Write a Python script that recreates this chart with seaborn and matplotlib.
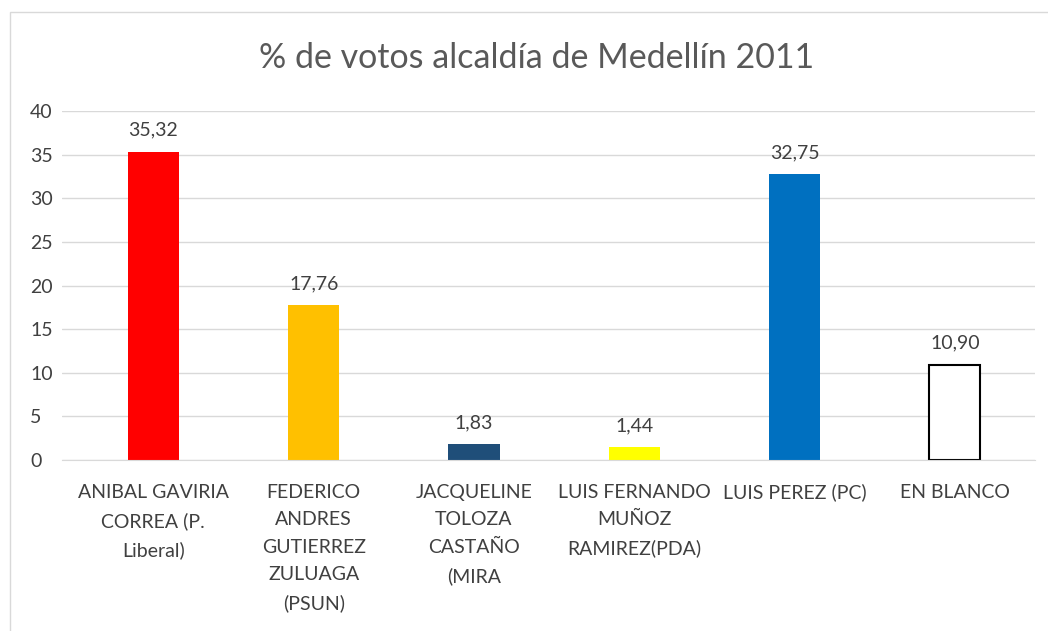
import matplotlib
matplotlib.use("Agg")
import matplotlib.pyplot as plt
import seaborn as sns
import pandas as pd
from matplotlib.patches import Rectangle

# data
candidatos = [
    "ANIBAL GAVIRIA\nCORREA (P.\nLiberal)",
    "FEDERICO\nANDRES\nGUTIERREZ\nZULUAGA\n(PSUN)",
    "JACQUELINE\nTOLOZA\nCASTAÑO\n(MIRA",
    "LUIS FERNANDO\nMUÑOZ\nRAMIREZ(PDA)",
    "LUIS PEREZ (PC)",
    "EN BLANCO",
]
votos = [35.32, 17.76, 1.83, 1.44, 32.75, 10.90]
colores = ["#FF0000", "#FFC000", "#1F4E79", "#FFFF00", "#0070C0", "#FFFFFF"]

df = pd.DataFrame({"candidato": candidatos, "votos": votos})

sns.set_style("white")
plt.rcParams["font.family"] = ["Lato", "DejaVu Sans"]
txt = "#404040"

fig = plt.figure(figsize=(10.48, 6.31), dpi=100)
ax = fig.add_axes([62 / 1048, 0.271, 973 / 1048, 0.553])

sns.barplot(data=df, x="candidato", y="votos", hue="candidato",
            palette=colores, legend=False, width=0.32, ax=ax,
            edgecolor="none", saturation=1)

# white bar ("EN BLANCO") gets a black outline
ax.patches[5].set_edgecolor("black")
ax.patches[5].set_linewidth(1.5)

for i, v in enumerate(votos):
    ax.text(i, v + 1.5, f"{v:.2f}".replace(".", ","), ha="center", va="bottom",
            fontsize=14, color=txt)

ax.set_ylim(0, 40)
ax.set_yticks(range(0, 41, 5))
ax.set_xlim(-0.57, 5.5)
ax.yaxis.grid(True, color="#D9D9D9", linewidth=1)
ax.set_axisbelow(True)
for s in ["top", "right", "left"]:
    ax.spines[s].set_visible(False)
ax.spines["bottom"].set_color("#D9D9D9")
ax.tick_params(axis="both", length=0, labelsize=14, colors=txt)
ax.tick_params(axis="x", pad=17)
ax.tick_params(axis="y", pad=23)
for lab in ax.get_yticklabels():
    lab.set_horizontalalignment("left")
for lab in ax.get_xticklabels():
    lab.set_linespacing(1.75)
ax.set_xlabel("")
ax.set_ylabel("")

fig.text(0.512, 0.908, "% de votos alcaldía de Medellín 2011", ha="center",
         va="center", fontsize=24.5, color="#595959")

# chart border
fig.patches.append(Rectangle((10 / 1048, -0.05), 1.2, 1 - 12 / 631 + 0.05,
                             transform=fig.transFigure, fill=False,
                             edgecolor="#D9D9D9", linewidth=1))

fig.savefig("out.png", dpi=100)
